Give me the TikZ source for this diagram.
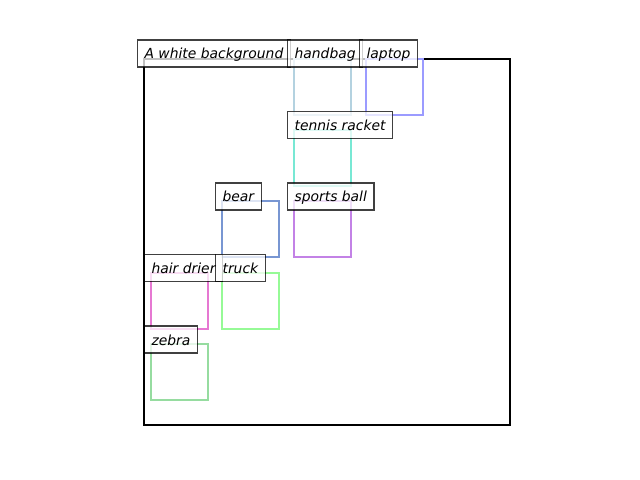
\documentclass[tikz,border=0pt]{standalone}
\usepackage{fontspec}
\setmainfont{DejaVu Sans}
\definecolor{chandbag}{RGB}{180,210,224}
\definecolor{claptop}{RGB}{155,155,255}
\definecolor{cracket}{RGB}{120,232,212}
\definecolor{cball}{RGB}{195,130,230}
\definecolor{cbear}{RGB}{120,150,210}
\definecolor{cdrier}{RGB}{230,120,210}
\definecolor{ctruck}{RGB}{150,250,150}
\definecolor{czebra}{RGB}{150,220,160}
\tikzset{
  tag/.style={anchor=base west,xshift=-5.04bp,draw=black,draw opacity=0.75,
    fill=white,fill opacity=0.75,text opacity=1,line width=0.8bp,
    inner xsep=5.04bp,inner ysep=3bp,text height=10.68bp,text depth=2.76bp,
    font=\fontsize{10bp}{12bp}\selectfont\itshape},
  bbox/.style={line width=1.7bp}
}

\begin{document}
\begin{tikzpicture}[x=0.72bp,y=-0.72bp]
  \useasboundingbox (0,0) rectangle (640,480);
  % Frame
  \draw[line width=1.7bp] (144,59) rectangle (510,425);
  % Boxes
  \foreach \c/\l/\t in {handbag/294/59,laptop/366/59,racket/294/130,
      ball/294/201,bear/222/201,drier/151/273,truck/222/273,zebra/151/344}
    \draw[bbox,draw=c\c] (\l,\t) rectangle ++(57,56);
  % Labels
  \node[tag] (bg) at (144,59) {A white background};
  \node[tag] (handbag) at (294,59) {handbag};
  \node[tag] (laptop) at (366,59) {laptop};
  \node[tag] (racket) at (294,130.5) {tennis racket};
  \node[tag] (bear) at (222,202) {bear};
  \node[tag] (ball) at (294,202) {sports ball};
  \node[tag] (drier) at (151,273.5) {hair drier};
  \node[tag] (truck) at (222,273.5) {truck};
  \node[tag] (zebra) at (151,345) {zebra};
\end{tikzpicture}
\end{document}
